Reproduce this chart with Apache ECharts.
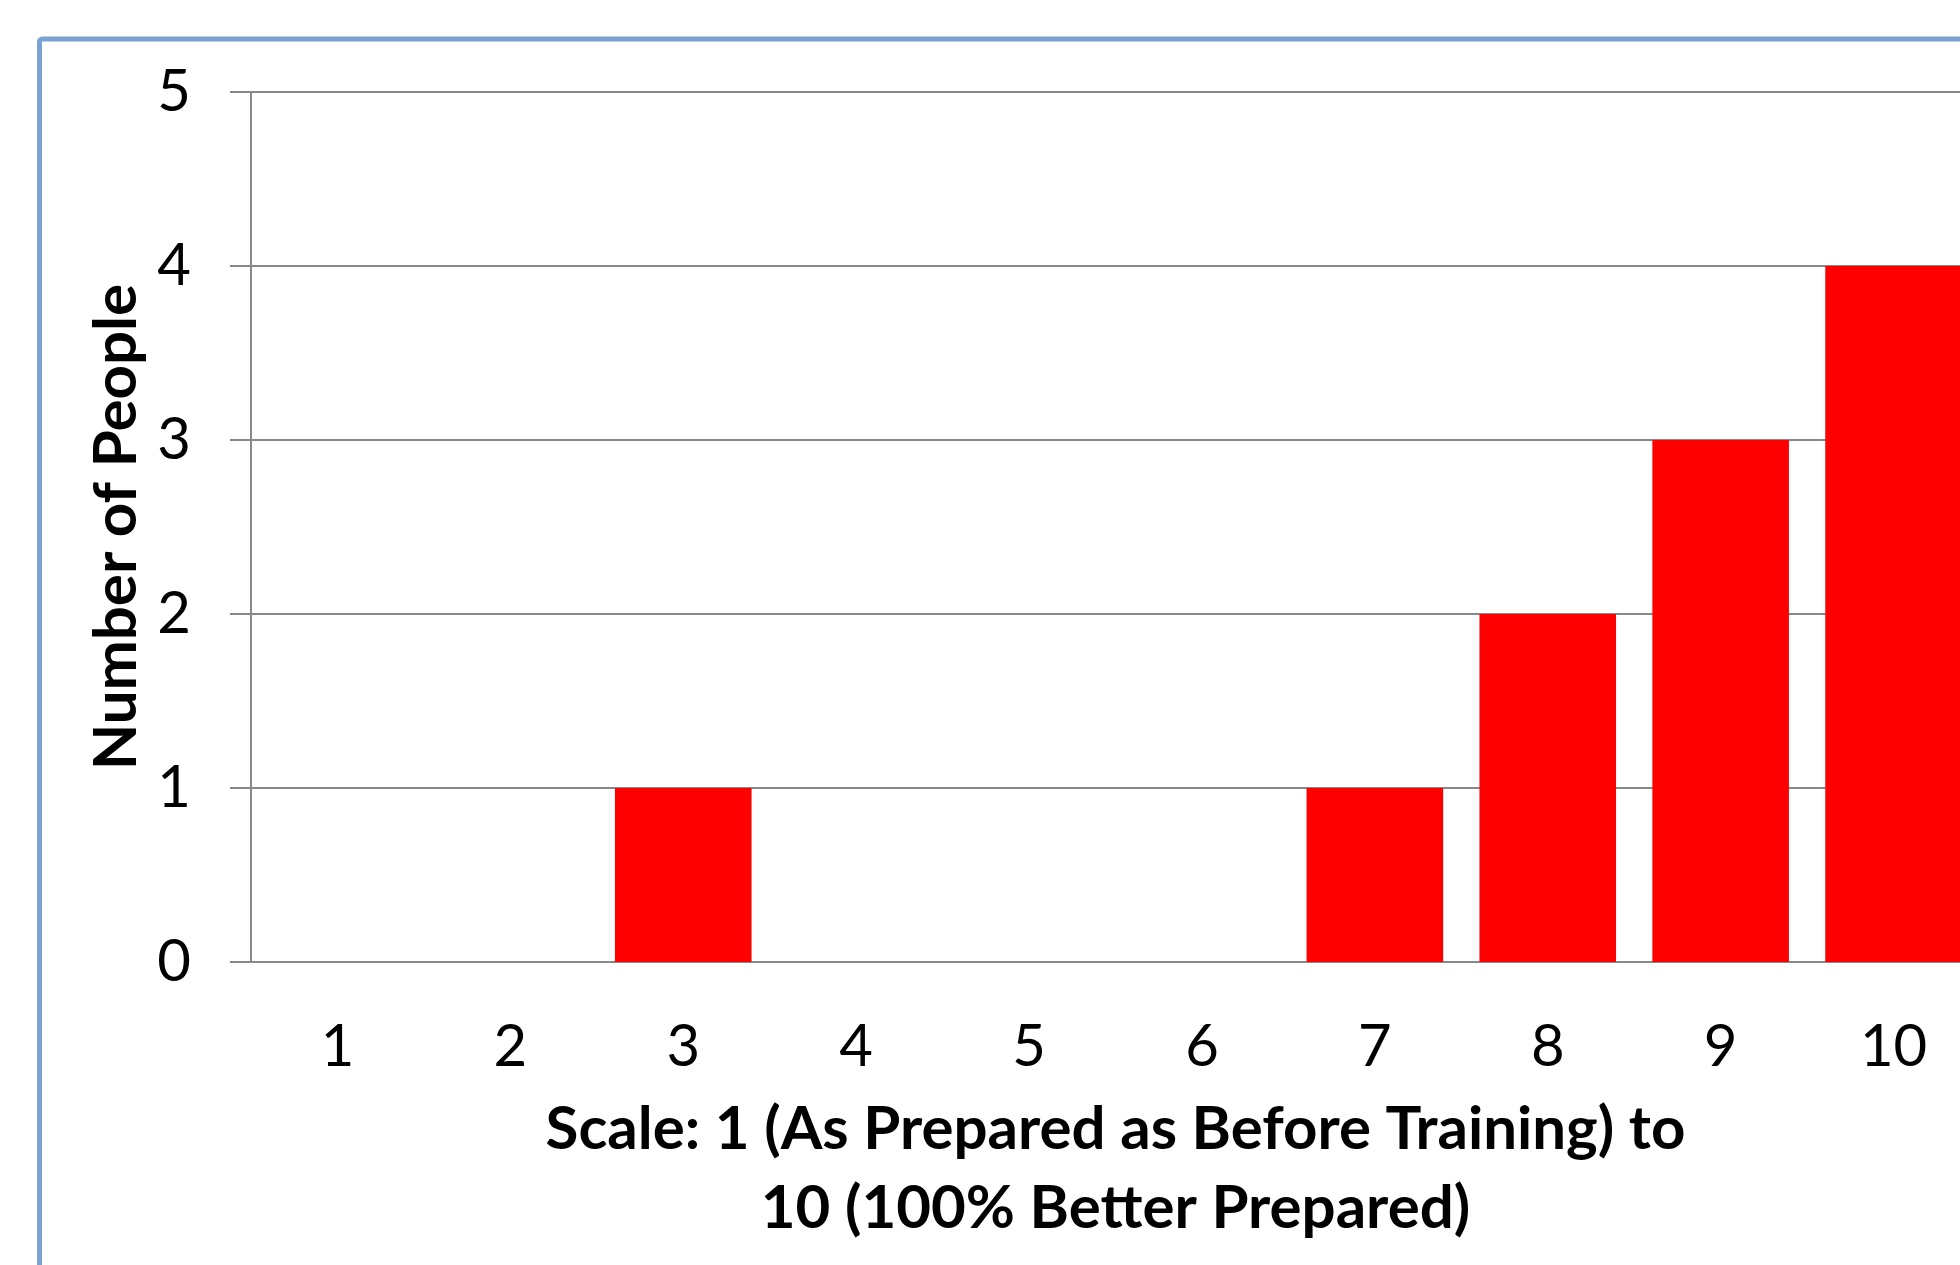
<!DOCTYPE html>
<html>
<head>
<meta charset="utf-8">
<script src="https://cdn.jsdelivr.net/npm/echarts@6/dist/echarts.min.js"></script>
<style>
html,body{margin:0;padding:0;background:#fff;}
#c{width:1960px;height:1265px;}
</style>
</head>
<body>
<div id="c"></div>
<script>
const categories = ['1','2','3','4','5','6','7','8','9','10'];
const peopleCounts = [0,0,1,0,0,0,1,2,3,4];
const yTicks = [0,1,2,3,4,5];
const xTitle = 'Scale: 1 (As Prepared as Before Training) to\n10 (100% Better Prepared)';
const yTitle = 'Number of People';

const FONT = 'Lato, "Open Sans", sans-serif';
const chart = echarts.init(document.getElementById('c'), null, {renderer:'canvas'});
chart.setOption({
  animation:false,
  backgroundColor:'#fff',
  graphic:[{
    type:'rect', silent:true, z:-1,
    shape:{x:39.5, y:39, width:2000, height:2000, r:3},
    style:{fill:'none', stroke:'#7ba3d2', lineWidth:5}
  }],
  grid:{left:251, top:92, right:-20, bottom:303, outerBoundsMode:'none', containLabel:false},
  xAxis:{
    type:'category', data:categories,
    axisLine:{lineStyle:{color:'#888', width:2}},
    axisTick:{show:false},
    axisLabel:{color:'#000', fontFamily:FONT, fontSize:58, margin:56},
    name:xTitle, nameLocation:'middle', nameGap:128,
    nameTextStyle:{color:'#000', fontFamily:FONT, fontSize:60, fontWeight:'bold', lineHeight:79}
  },
  yAxis:{
    type:'value', min:0, max:5, interval:1,
    axisLine:{show:true, lineStyle:{color:'#888', width:2}},
    axisTick:{show:true, length:21, lineStyle:{color:'#888', width:2}},
    splitLine:{lineStyle:{color:'#888', width:2}},
    axisLabel:{color:'#000', fontFamily:FONT, fontSize:58, margin:60},
    name:yTitle, nameLocation:'middle', nameGap:104, nameRotate:90,
    nameTextStyle:{color:'#000', fontFamily:FONT, fontSize:60, fontWeight:'bold'}
  },
  series:[{
    type:'bar', data:peopleCounts, barCategoryGap:'21%',
    itemStyle:{color:'#ff0000'}
  }]
});
</script>
</body>
</html>
